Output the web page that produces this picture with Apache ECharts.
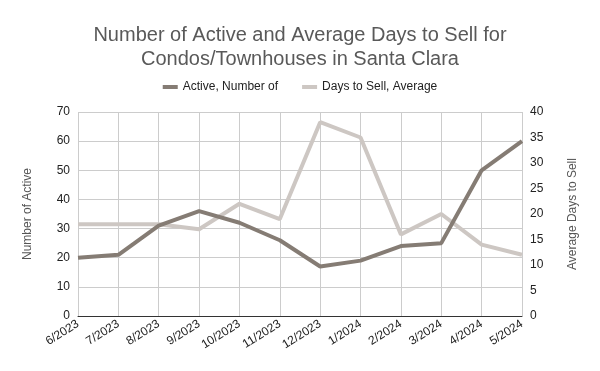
<!DOCTYPE html>
<html><head><meta charset="utf-8">
<script src="https://cdn.jsdelivr.net/npm/echarts@6/dist/echarts.min.js"></script>
<style>html,body{margin:0;padding:0;background:#fff}#c{width:600px;height:371px}</style>
</head><body><div id="c"></div>
<script>
const categories = ['6/2023','7/2023','8/2023','9/2023','10/2023','11/2023','12/2023','1/2024','2/2024','3/2024','4/2024','5/2024'];
const activeNumber = [20, 21, 31, 36, 32, 26, 17, 19, 24, 25, 50, 60];
const daysToSell = [18, 18, 18, 17, 22, 19, 38, 35, 16, 20, 14, 12];
const leftTicks = [0, 70, 10];
const rightTicks = [0, 40, 5];

const chart = echarts.init(document.getElementById('c'), null, {renderer: 'canvas'});
const font = '"Liberation Sans", Arial, sans-serif';
chart.setOption({
  animation: false,
  backgroundColor: '#fff',
  title: {
    text: 'Number of Active and Average Days to Sell for\nCondos/Townhouses in Santa Clara',
    left: 'center', top: 18,
    textStyle: {fontFamily: font, fontSize: 20, fontWeight: 'normal', color: '#595959', lineHeight: 24}
  },
  legend: {
    top: 76, left: 'center', itemWidth: 15, itemHeight: 4, itemGap: 24,
    icon: 'rect',
    textStyle: {fontFamily: font, fontSize: 12, color: '#222'},
    data: ['Active, Number of', 'Days to Sell, Average']
  },
  grid: {left: 78, right: 78, top: 112, bottom: 55, containLabel: false},
  xAxis: {
    type: 'category', data: categories, boundaryGap: false,
    axisLine: {lineStyle: {color: '#333', width: 1}},
    axisTick: {show: false},
    splitLine: {show: true, lineStyle: {color: '#ccc'}},
    axisLabel: {rotate: 32, fontFamily: font, fontSize: 12, color: '#222', margin: 7, interval: 0}
  },
  yAxis: [{
    type: 'value', min: leftTicks[0], max: leftTicks[1], interval: leftTicks[2],
    name: 'Number of Active', nameLocation: 'middle', nameGap: 44,
    nameTextStyle: {fontFamily: font, fontSize: 12, color: '#555'},
    axisLine: {show: false}, axisTick: {show: false},
    splitLine: {lineStyle: {color: '#ccc'}},
    axisLabel: {fontFamily: font, fontSize: 12, color: '#222', margin: 8}
  }, {
    type: 'value', min: rightTicks[0], max: rightTicks[1], interval: rightTicks[2],
    name: 'Average Days to Sell', nameLocation: 'middle', nameGap: 45, nameRotate: 90,
    nameTextStyle: {fontFamily: font, fontSize: 12, color: '#555'},
    position: 'right',
    axisLine: {show: false}, axisTick: {show: false},
    splitLine: {show: false},
    axisLabel: {fontFamily: font, fontSize: 12, color: '#222', margin: 8}
  }],
  series: [{
    name: 'Days to Sell, Average', type: 'line', yAxisIndex: 1, data: daysToSell,
    symbol: 'none', color: '#cdc7c3', lineStyle: {width: 4, color: '#cdc7c3'}, z: 2
  }, {
    name: 'Active, Number of', type: 'line', yAxisIndex: 0, data: activeNumber,
    symbol: 'none', color: '#857c74', lineStyle: {width: 4, color: '#857c74'}, z: 3
  }]
});
</script></body></html>
